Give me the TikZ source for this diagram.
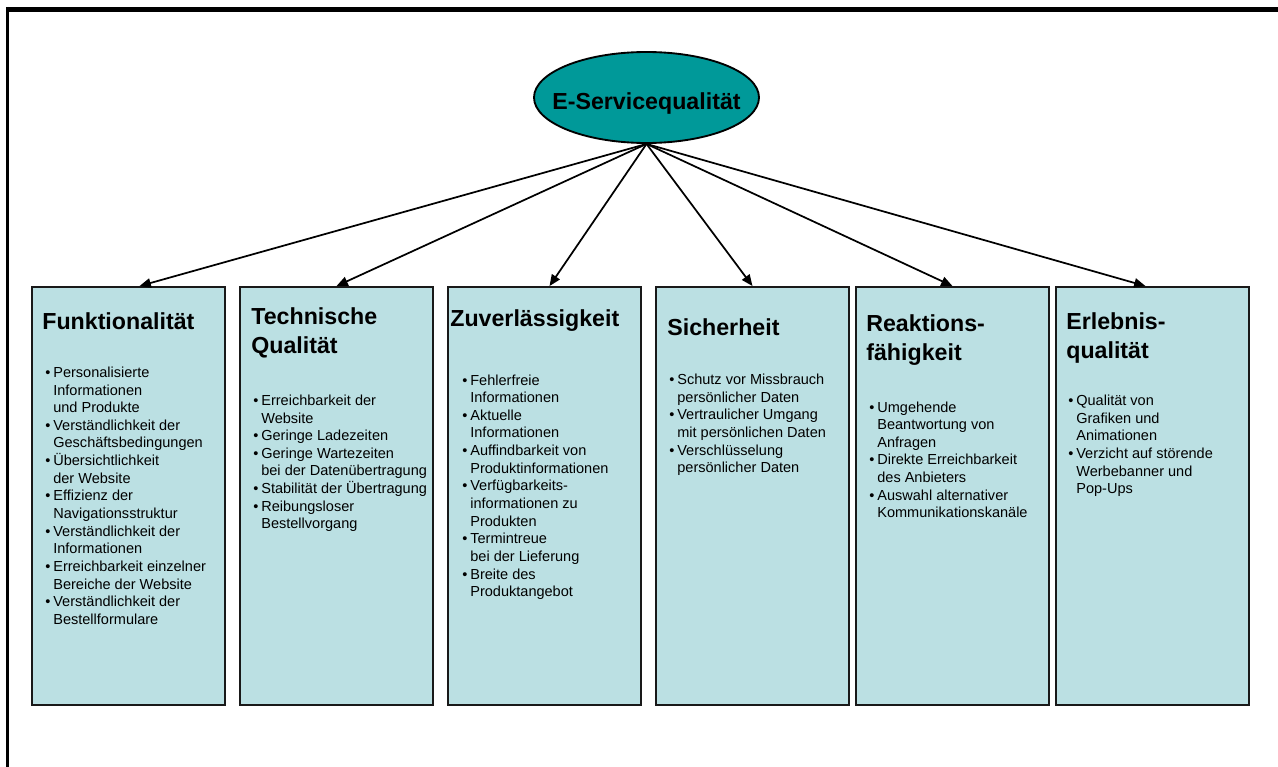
\documentclass[tikz,border=0pt]{standalone}
\usepackage{fontspec}
\setmainfont{Liberation Sans}
\usepackage{xcolor}
\usetikzlibrary{arrows.meta,calc,shapes.geometric}
\definecolor{esqteal}{HTML}{009999}
\definecolor{boxblue}{HTML}{BBE0E3}
\newcommand{\bul}{\makebox[6pt][l]{\textbullet}}
\newcommand{\ind}{\hspace*{6pt}}

\begin{document}
\begin{tikzpicture}[
    x=0.75pt, y=-0.75pt,
    >={Triangle[length=8.5pt,width=7pt]},
    cat/.style={draw=black!90, line width=1.4pt, fill=boxblue, minimum width=144.75pt, minimum height=313.5pt, inner sep=0pt},
    ttl/.style={anchor=base west, inner sep=0pt, font=\bfseries\fontsize{17.4}{21.75}\selectfont},
    lst/.style={anchor=base west, inner sep=0pt, font=\fontsize{10.9}{13.23}\selectfont}
]
\useasboundingbox (0,0) rectangle (1278,767);
% frame
\draw[line width=3.75pt] (6,9.5) -- (1278,9.5);
\draw[line width=2.25pt] (7.5,7) -- (7.5,767);

% top node
\node[ellipse, draw, line width=1.4pt, fill=esqteal, minimum width=168.75pt, minimum height=68.25pt, inner sep=0pt] (top) at (646.5,97.5) {};
\node[anchor=base, inner sep=0pt, font=\bfseries\fontsize{17.4}{21}\selectfont] (top-t) at ($(top.center)+(0,11.8)$) {E-Servicequalität};

% dimensions
\node[cat] (funk) at (128.5,496) {};
\node[cat] (tech) at (336.5,496) {};
\node[cat] (zuv)  at (544.5,496) {};
\node[cat] (sich) at (752.5,496) {};
\node[cat] (reak) at (952.5,496) {};
\node[cat] (erl)  at (1152.5,496) {};

\node[ttl] (funk-t) at ($(funk.north west)+(11,43)$) {Funktionalität};
\node[ttl] (tech-t) at ($(tech.north west)+(12,38)$) {\begin{tabular}[t]{@{}l@{}}Technische\\Qualität\end{tabular}};
\node[ttl] (zuv-t)  at ($(zuv.north west)+(3,40)$) {Zuverlässigkeit};
\node[ttl] (sich-t) at ($(sich.north west)+(12,49)$) {Sicherheit};
\node[ttl] (reak-t) at ($(reak.north west)+(11,45)$) {\begin{tabular}[t]{@{}l@{}}Reaktions-\\fähigkeit\end{tabular}};
\node[ttl] (erl-t)  at ($(erl.north west)+(11,43)$) {\begin{tabular}[t]{@{}l@{}}Erlebnis-\\qualität\end{tabular}};

\node[lst] (funk-l) at ($(funk.north west)+(14,91.3)$) {\begin{tabular}[t]{@{}l@{}}
\bul Personalisierte\\ \ind Informationen\\ \ind und Produkte\\
\bul Verständlichkeit der\\ \ind Geschäftsbedingungen\\
\bul Übersichtlichkeit\\ \ind der Website\\
\bul Effizienz der\\ \ind Navigationsstruktur\\
\bul Verständlichkeit der\\ \ind Informationen\\
\bul Erreichbarkeit einzelner\\ \ind Bereiche der Website\\
\bul Verständlichkeit der\\ \ind Bestellformulare
\end{tabular}};
\node[lst] (tech-l) at ($(tech.north west)+(14,119.3)$) {\begin{tabular}[t]{@{}l@{}}
\bul Erreichbarkeit der\\ \ind Website\\
\bul Geringe Ladezeiten\\
\bul Geringe Wartezeiten\\ \ind bei der Datenübertragung\\
\bul Stabilität der Übertragung\\
\bul Reibungsloser\\ \ind Bestellvorgang
\end{tabular}};
\node[lst] (zuv-l) at ($(zuv.north west)+(15,99)$) {\begin{tabular}[t]{@{}l@{}}
\bul Fehlerfreie\\ \ind Informationen\\
\bul Aktuelle\\ \ind Informationen\\
\bul Auffindbarkeit von\\ \ind Produktinformationen\\
\bul Verfügbarkeits-\\ \ind informationen zu\\ \ind Produkten\\
\bul Termintreue\\ \ind bei der Lieferung\\
\bul Breite des\\ \ind Produktangebot
\end{tabular}};
\node[lst] (sich-l) at ($(sich.north west)+(14,98.5)$) {\begin{tabular}[t]{@{}l@{}}
\bul Schutz vor Missbrauch\\ \ind persönlicher Daten\\
\bul Vertraulicher Umgang\\ \ind mit persönlichen Daten\\
\bul Verschlüsselung\\ \ind persönlicher Daten
\end{tabular}};
\node[lst] (reak-l) at ($(reak.north west)+(14,126)$) {\begin{tabular}[t]{@{}l@{}}
\bul Umgehende\\ \ind Beantwortung von\\ \ind Anfragen\\
\bul Direkte Erreichbarkeit\\ \ind des Anbieters\\
\bul Auswahl alternativer\\ \ind Kommunikationskanäle
\end{tabular}};
\node[lst] (erl-l) at ($(erl.north west)+(13,119.5)$) {\begin{tabular}[t]{@{}l@{}}
\bul Qualität von\\ \ind Grafiken und\\ \ind Animationen\\
\bul Verzicht auf störende\\ \ind Werbebanner und\\ \ind Pop-Ups
\end{tabular}};

% arrows
\draw[->, line width=1.3pt] (top.south) -- ($(funk.north)+(11,0)$);
\draw[->, line width=1.3pt] (top.south) -- (tech.north);
\draw[->, line width=1.3pt] (top.south) -- ($(zuv.north)+(5,0)$);
\draw[->, line width=1.3pt] (top.south) -- (sich.north);
\draw[->, line width=1.3pt] (top.south) -- (reak.north);
\draw[->, line width=1.3pt] (top.south) -- ($(erl.north)+(-7,0)$);
\end{tikzpicture}
\end{document}
